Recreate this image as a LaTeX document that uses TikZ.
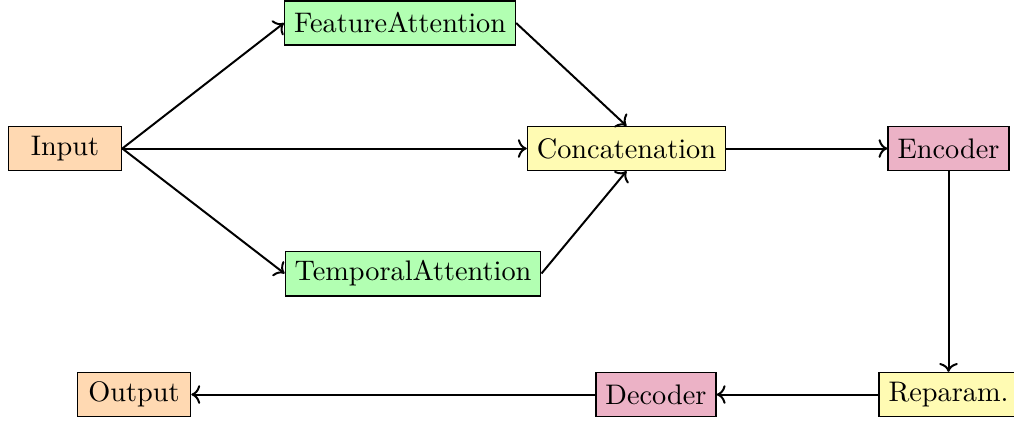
\documentclass[tikz,border=0pt]{standalone}
\usetikzlibrary{arrows.meta}
\begin{document}
\begin{tikzpicture}[x=0.3534pt,y=-0.3534pt,
  box/.style={draw, rectangle, line width=0.5pt, inner sep=3.33pt, minimum width=40pt, minimum height=15.5pt},
  io/.style={box, fill=orange!30},
  att/.style={box, fill=green!30},
  cat/.style={box, fill=yellow!30},
  vae/.style={box, fill=purple!30},
  conn/.style={->, line width=0.7pt}]
\useasboundingbox (0,0) rectangle (1014,423);
\node[io]  (in)   at (65,148.5)  {Input};
\node[att] (fa)   at (400,23)  {FeatureAttention};
\node[att] (ta)   at (413,273.5) {TemporalAttention};
\node[cat] (cc)   at (626.5,148.5) {Concatenation};
\node[vae] (enc)  at (948.5,148.5) {Encoder};
\node[cat] (rep)  at (948.5,394.5) {Reparam.};
\node[vae] (dec)  at (656,394.5) {Decoder};
\node[io]  (out)  at (134,394.5) {Output};
\draw[conn] (in.east) -- (fa.west);
\draw[conn] (in.east) -- (cc.west);
\draw[conn] (in.east) -- (ta.west);
\draw[conn] (fa.east) -- (cc.north);
\draw[conn] (ta.east) -- (cc.south);
\draw[conn] (cc.east) -- (enc.west);
\draw[conn] (enc.south) -- (rep.north);
\draw[conn] (rep.west) -- (dec.east);
\draw[conn] (dec.west) -- (out.east);
\end{tikzpicture}
\end{document}
